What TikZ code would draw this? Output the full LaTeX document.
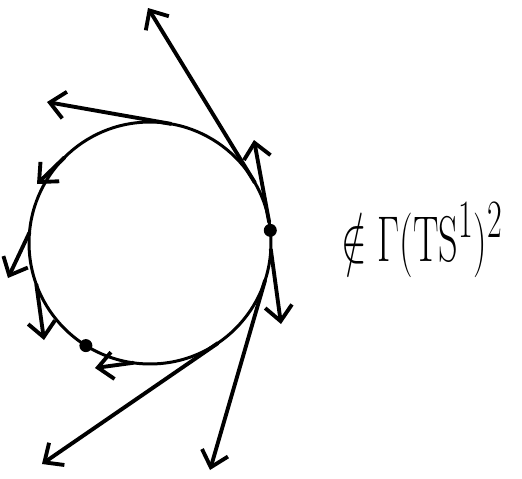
\documentclass[tikz,border=0pt]{standalone}
\usetikzlibrary{arrows.meta}
\begin{document}
\begin{tikzpicture}[
    x=0.02cm, y=-0.02cm,
    ring/.style={circle, draw, line width=1.7pt, minimum size=4.84cm,
                 inner sep=0pt, outer sep=0pt},
    vec/.style={line width=2.2pt, line cap=round,
                -{Straight Barb[length=3mm, width=5.4mm]}},
    pt/.style={circle, fill, inner sep=0pt, minimum size=2.6mm},
    lbl/.style={font=\Huge, inner sep=0pt},
]
\useasboundingbox (0,0) rectangle (522,478);

% ── Circle S^1 ──
\node[ring] (s1) at (150,243) {};

% ── Arrow tips (free ends) ──
\coordinate (tipN)   at (148,8);
\coordinate (tipNE)  at (254,140);
\coordinate (tipE)   at (281,324);
\coordinate (tipNW)  at (47,102);
\coordinate (tipW)   at (37,184);
\coordinate (tipWW)  at (8,278);
\coordinate (tipSW)  at (44,340);
\coordinate (tipS)   at (95,368);
\coordinate (tipSSW) at (42,464);
\coordinate (tipSSE) at (210,470);

% ── Tangent vectors ──
\draw[vec] (s1.30)  -- (tipN);
\draw[vec] (s1.10)  -- (tipNE);
\draw[vec] (s1.-3)  -- (tipE);
\draw[vec] (s1.80)  -- (tipNW);
\draw[vec] (s1.135) -- (tipW);
\draw[vec] (s1.175) -- (tipWW);
\draw[vec] (s1.200) -- (tipSW);
\draw[vec] (s1.262) -- (tipS);
\draw[vec] (s1.304) -- (tipSSW);
\draw[vec] (s1.342) -- (tipSSE);

% ── Points ──
\node[pt] (p1) at (s1.6) {};
\node[pt] (p2) at (s1.238) {};

% ── Label ──
\node[lbl] (note) at (422,240)
    {\scalebox{0.875}[1.48]{$\notin\Gamma(\mathrm{TS}^1)^2$}};
\end{tikzpicture}
\end{document}
